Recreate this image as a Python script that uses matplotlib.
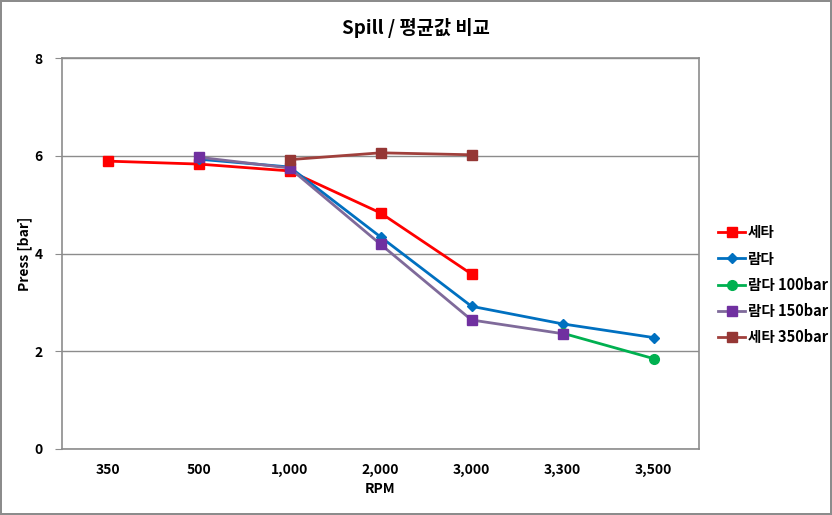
import numpy as np
import matplotlib
matplotlib.use("Agg")
import matplotlib.pyplot as plt

plt.rcParams['font.family'] = ['Noto Sans CJK KR', 'DejaVu Sans']

rpm_labels = ["350", "500", "1,000", "2,000", "3,000", "3,300", "3,500"]
nan = np.nan

theta = [5.89, 5.83, 5.69, 4.83, 3.58, nan, nan]
lambda_ = [nan, 5.93, 5.77, 4.34, 2.92, 2.56, 2.28]
lambda_100 = [nan, nan, nan, nan, nan, 2.37, 1.85]
lambda_150 = [nan, 5.97, 5.75, 4.19, 2.64, 2.36, nan]
theta_350 = [nan, nan, 5.92, 6.06, 6.02, nan, nan]

fig = plt.figure(figsize=(8.32, 5.15), dpi=100)
fig.patch.set_edgecolor("#8c8c8c")
fig.patch.set_linewidth(1.5)
ax = fig.add_axes([62/832, 66/515, 637/832, 391/515])

x = np.arange(len(rpm_labels))

def series(vals, label, color, marker, ms, mcolor=None):
    v = np.array(vals, dtype=float)
    m = ~np.isnan(v)
    ax.plot(x[m], v[m], color=color, lw=2, marker=marker, markersize=ms,
            markerfacecolor=mcolor or color, markeredgecolor=mcolor or color,
            label=label)

series(theta, "세타", "#FF0000", "s", 7)
series(lambda_, "람다", "#0070C0", "D", 5)
series(lambda_100, "람다 100bar", "#00B050", "o", 7)
series(lambda_150, "람다 150bar", "#7F6A9A", "s", 7, "#7030A0")
series(theta_350, "세타 350bar", "#A0403C", "s", 7, "#953735")

ax.set_xlim(-0.5, 6.5)
ax.set_ylim(0, 8)
ax.set_yticks([0, 2, 4, 6, 8])
ax.set_xticks(x)
ax.set_xticklabels(rpm_labels, fontweight="bold", fontsize=10)
for t in ax.get_yticklabels():
    t.set_fontweight("bold")
    t.set_fontsize(10)
ax.tick_params(axis="x", length=0, pad=10)
ax.tick_params(axis="y", length=5, color="#8c8c8c", pad=9)
ax.grid(axis="y", color="#8c8c8c", lw=1)
ax.set_axisbelow(True)
for s in ax.spines.values():
    s.set_color("#8c8c8c")
    s.set_linewidth(1.2)

ax.set_xlabel("RPM", fontweight="bold", fontsize=10, labelpad=4)
ax.set_ylabel("Press [bar]", fontweight="bold", fontsize=10, labelpad=2)
fig.suptitle("Spill / 평균값 비교", fontweight="bold", fontsize=13.5, y=0.965)

leg = ax.legend(loc="center left", bbox_to_anchor=(1.01, 0.42), frameon=False,
                handlelength=1.8, handletextpad=0.2,
                labelspacing=0.7, prop={"weight": "bold", "size": 10.5})

fig.savefig("out.png", dpi=100)
